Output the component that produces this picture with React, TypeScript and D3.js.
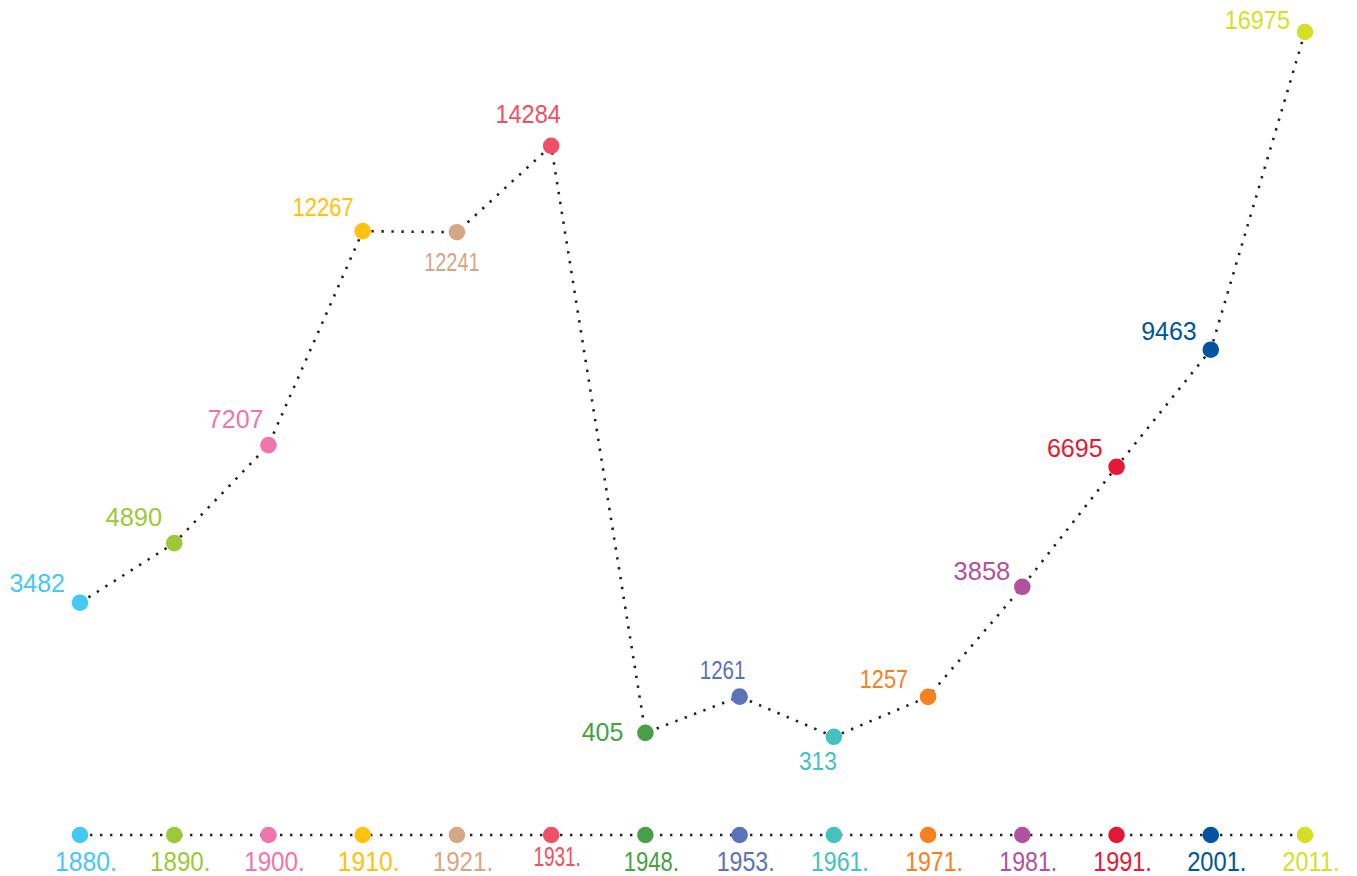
import React from "react";
import * as d3 from "d3";

const years = ["1880.", "1890.", "1900.", "1910.", "1921.", "1931.", "1948.", "1953.", "1961.", "1971.", "1981.", "1991.", "2001.", "2011."];
const values = [3482, 4890, 7207, 12267, 12241, 14284, 405, 1261, 313, 1257, 3858, 6695, 9463, 16975];
const colors = ["#45c8f2", "#9dc83c", "#f075ae", "#ffc20e", "#d4a887", "#ef5066", "#489f4a", "#5b73b8", "#45c1bf", "#f58220", "#b0529e", "#e31937", "#0054a0", "#d5df27"];

// label placement relative to each point: [dx, dy, anchor, horizontal squeeze]
const valueLabelLayout: [number, number, string, number][] = [
  [-15, -11, "end", 1],
  [-12, -17, "end", 1.02],
  [-5, -17, "end", 1],
  [-9, -15, "end", 0.88],
  [-5, 39, "middle", 0.8],
  [-23, -23, "middle", 0.94],
  [-22, 8, "end", 1],
  [-17, -18, "middle", 0.82],
  [-16, 33, "middle", 0.91],
  [-20, -9, "end", 0.87],
  [-12, -7, "end", 1.02],
  [-14, -10, "end", 1],
  [-14, -10, "end", 1],
  [-15, -3, "end", 0.94],
];
const axisLabelLayout: [number, number][] = [
  [0.95, 0], [0.93, 0], [0.93, 0], [0.95, 0], [0.93, 0], [0.73, -5], [0.85, 0],
  [0.89, 0], [0.89, 0], [0.89, 0], [0.89, 0], [0.9, 0], [0.91, 0], [0.9, 0],
];

const W = 1357;
const H = 876;
const FONT = "'Liberation Sans', Arial, Helvetica, sans-serif";

export default function App() {
  const x = d3.scalePoint<string>().domain(years).range([80, 1305]);
  const y = d3.scaleLinear().domain([0, 16975]).range([750, 32]);
  const axisY = 835;

  const pts = years.map((yr, i) => ({ yr, v: values[i], c: colors[i], px: x(yr) as number, py: y(values[i]) }));
  const line = d3.line<{ px: number; py: number }>().x((d) => d.px).y((d) => d.py);
  const axisLine = d3.line<{ px: number }>().x((d) => d.px).y(() => axisY);

  return (
    <svg width={W} height={H} style={{ position: "absolute", left: 0, top: 0, background: "#fff" }} fontFamily={FONT}>
      <path d={line(pts) || ""} fill="none" stroke="#222" strokeWidth={2.6} strokeDasharray="2.4 7.6" />
      <path d={axisLine(pts) || ""} fill="none" stroke="#222" strokeWidth={2.6} strokeDasharray="2.4 7.6" />
      {pts.map((p, i) => {
        const [dx, dy, anchor, sx] = valueLabelLayout[i];
        const [asx, ady] = axisLabelLayout[i];
        return (
          <g key={p.yr}>
            <circle cx={p.px} cy={p.py} r={8.3} fill={p.c} />
            <circle cx={p.px} cy={axisY} r={8.3} fill={p.c} />
            <text
              transform={`translate(${p.px + dx},${p.py + dy}) scale(${sx},1.04)`}
              textAnchor={anchor}
              fontSize={25}
              fill={p.c}
            >
              {d3.format("d")(p.v)}
            </text>
            <text
              transform={`translate(${p.px + 6},${axisY + 36 + ady}) scale(${asx},1.04)`}
              textAnchor="middle"
              fontSize={26}
              fill={p.c}
            >
              {p.yr}
            </text>
          </g>
        );
      })}
    </svg>
  );
}
